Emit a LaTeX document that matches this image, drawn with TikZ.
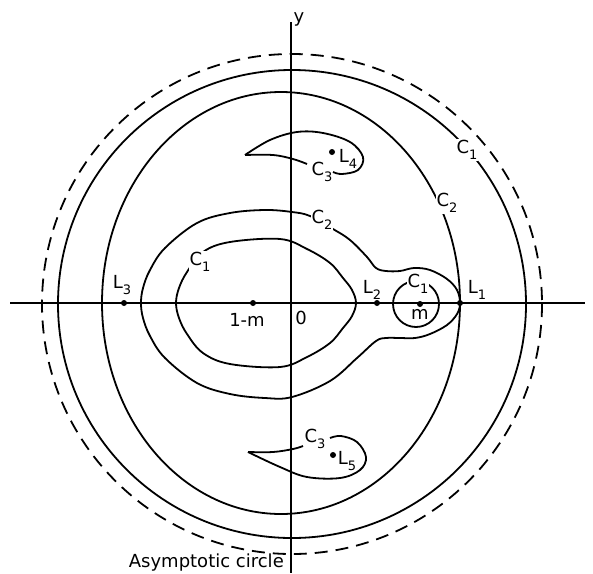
\documentclass[tikz,border=0pt]{standalone}
\usepackage{fontspec}
\setmainfont{DejaVu Sans}
\newcommand\sbs[1]{\raisebox{-0.32em}{\fontsize{13}{13}\selectfont #1}}
\begin{document}
\begin{tikzpicture}[x=1pt,y=-1pt,
  curve/.style={line width=1.8pt, line join=round},
  axis/.style={line width=1.8pt},
  dashedcirc/.style={line width=1.8pt, dash pattern=on 13pt off 8pt},
  lbl/.style={font=\fontsize{18}{18}\selectfont, inner sep=1pt},
  gaplbl/.style={lbl, fill=white},
  pt/.style={circle, fill=black, inner sep=0pt, minimum size=6pt}]
\useasboundingbox (0,0) rectangle (593,573);
% axes
\draw[axis] (10,303) -- (585,303);
\draw[axis] (291,22) -- (291,573);
% asymptotic (dashed) circle and outer C1 circle
\draw[dashedcirc] (292,304) circle (250);
\draw[curve] (292,304) circle (234);
% outer C2
\draw[curve] (281,303) ellipse (179 and 211);
% inner C2 (pear shape round 1-m and m)
\draw[curve] plot[smooth cycle, tension=0.6] coordinates {
 (460,303) (457,290) (447,279) (430,270) (414,268) (400,271) (386,271) (376,268)
 (367,257) (350,240) (333,229) (310,216) (292,212) (265,210) (230,213) (197,223)
 (165,248) (150,270) (143,288) (141,303) (143,318) (150,336) (165,358) (197,383) (230,394) (265,398)
 (292,397) (330,381) (357,358) (376,341) (386,338) (400,338) (415,338) (430,334)
 (447,325) (457,314)};
% inner C1 round 1-m
\draw[curve] plot[smooth cycle, tension=0.6] coordinates {
 (356,303) (352,316) (343,328) (330,343) (307,357) (280,367) (230,364) (203,353) (187,334)
 (179,318) (176,303) (179,288) (187,272) (203,252) (230,242) (280,239) (307,249) (330,263) (343,278) (352,290)};
% small C1 round m
\draw[curve] (416,304) circle (23);
% upper tadpole C3 round L4
\draw[curve] plot[smooth, tension=0.6] coordinates {(245,155) (270,140) (297,132) (323,133) (350,142) (363,157) (358,170) (342,174) (333,172)};
\draw[curve] plot[smooth, tension=0.6] coordinates {(245,155) (273,155) (293,159) (307,164)};
% lower tadpole C3 round L5
\draw[curve] plot[smooth, tension=0.6] coordinates {(248,452) (280,467) (307,477) (340,478) (360,470) (366,457) (357,442) (341,436) (330,438)};
\draw[curve] plot[smooth, tension=0.6] coordinates {(248,452) (273,452) (293,449) (303,446)};
% points
\node[pt] (L1) at (460,303) {};
\node[pt] (L2) at (377,303) {};
\node[pt] (L3) at (124,303) {};
\node[pt] (P1m) at (253,303) {};
\node[pt] (Pm) at (420,304) {};
\node[pt] (L4) at (332,152) {};
\node[pt] (L5) at (333,455) {};
% labels
\node[lbl] (tL1) at (477,290) {L\sbs{1}};
\node[lbl] (tL2) at (372,290) {L\sbs{2}};
\node[lbl] (tL3) at (122,285) {L\sbs{3}};
\node[lbl] (tL4) at (348,159) {L\sbs{4}};
\node[lbl] (tL5) at (347,461) {L\sbs{5}};
\node[lbl] (t1m) at (247,320) {1-m};
\node[lbl] (tm) at (420,314) {m};
\node[lbl] (t0) at (301,318) {0};
\node[lbl] (ty) at (299,19) {y};
\node[gaplbl] (tC1o) at (467,150) {C\sbs{1}};
\node[gaplbl] (tC2o) at (447,203) {C\sbs{2}};
\node[gaplbl] (tC2i) at (322,220) {C\sbs{2}};
\node[gaplbl] (tC1i) at (200,262) {C\sbs{1}};
\node[gaplbl] (tC1m) at (418,284) {C\sbs{1}};
\node[lbl] (tC3u) at (322,172) {C\sbs{3}};
\node[lbl] (tC3l) at (315,439) {C\sbs{3}};
\node[lbl, anchor=east] (tasym) at (285,563) {Asymptotic circle};
\end{tikzpicture}
\end{document}
